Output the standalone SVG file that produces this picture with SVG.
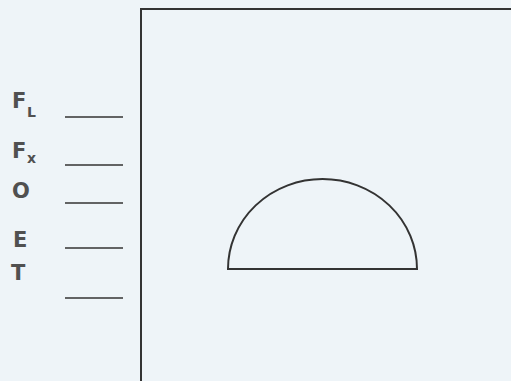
<svg xmlns="http://www.w3.org/2000/svg" width="511" height="381" viewBox="0 0 511 381">
<style>
.lbl{font-family:"DejaVu Sans","Liberation Sans",sans-serif;font-size:21px;font-weight:bold;fill:#505050}
.sub{font-family:"DejaVu Sans","Liberation Sans",sans-serif;font-size:14px;font-weight:bold;fill:#505050}
.blank{stroke:#333;stroke-width:1.6}
.edge{fill:none;stroke:#333;stroke-width:2}
</style>
<rect width="511" height="381" fill="#eef4f8"/>
<g id="box"><path class="edge" d="M141,381 V9 H511"/></g>
<g id="semicircle"><path class="edge" d="M228,269 A94.5,90 0 0 1 417,269 Z" fill="#f0f5f8"/></g>
<g id="labels">
<text class="lbl" x="12" y="108">F</text><text class="sub" x="27" y="117">L</text>
<text class="lbl" x="12" y="158">F</text><text class="sub" x="27" y="163">x</text>
<text class="lbl" x="12" y="198">O</text>
<text class="lbl" x="13" y="247">E</text>
<text class="lbl" x="11" y="280">T</text>
</g>
<g id="blanks">
<line class="blank" x1="65" y1="117" x2="123" y2="117"/>
<line class="blank" x1="65" y1="165" x2="123" y2="165"/>
<line class="blank" x1="65" y1="203" x2="123" y2="203"/>
<line class="blank" x1="65" y1="248" x2="123" y2="248"/>
<line class="blank" x1="65" y1="298" x2="123" y2="298"/>
</g>
</svg>
